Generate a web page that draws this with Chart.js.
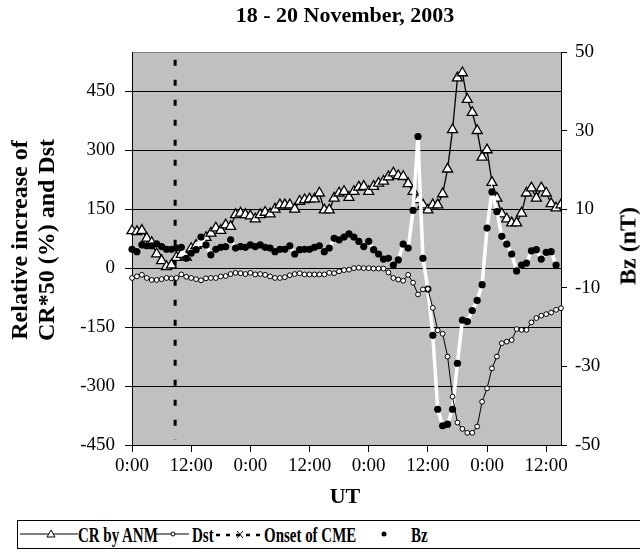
<!DOCTYPE html>
<html lang="en">
<head>
  <meta charset="UTF-8">
  <title>18 - 20 November, 2003</title>
  <script src="https://cdn.jsdelivr.net/npm/chart.js"></script>
  <style>
    body {
      margin: 0;
      background: #fff;
      overflow: hidden;
      font-family: 'Liberation Serif', 'Times New Roman', serif;
      color: #000;
    }

    .wrap {
      position: relative;
      width: 640px;
      height: 559px;
      overflow: hidden;
    }

    canvas {
      position: absolute;
      left: 0;
      top: 0;
    }

    .lbl {
      position: absolute;
      font-weight: bold;
      white-space: nowrap;
      text-align: center;
    }

    .title { left: 345px; top: 2px; font-size: 22px; transform: translateX(-50%); }
    .ytitle { left: 33px; top: 240px; font-size: 24px; line-height: 27px; transform: translate(-50%, -50%) rotate(-90deg); }
    .y2title { left: 628px; top: 246px; font-size: 24px; transform: translate(-50%, -50%) rotate(-90deg); }
    .xtitle { left: 345px; top: 483px; font-size: 22px; transform: translateX(-50%); }

    .legend {
      position: absolute;
      left: 17px;
      top: 520px;
      width: 700px;
      height: 27px;
      border: 1px solid #000;
      background: #fff;
    }

    .legend svg { position: absolute; top: 0; }

    .legend span {
      position: absolute;
      top: 0;
      font-weight: bold;
      font-size: 22px;
      line-height: 27px;
      white-space: nowrap;
      transform: scaleX(0.68);
      transform-origin: left center;
    }
  </style>
</head>
<body>

<div class="wrap">
  <canvas id="grafico" width="640" height="559"></canvas>

  <div class="lbl title">18 - 20 November, 2003</div>
  <div class="lbl ytitle">Relative increase of<br>CR*50 (%) and Dst</div>
  <div class="lbl y2title">Bz (nT)</div>
  <div class="lbl xtitle">UT</div>

  <div class="legend" id="legenda"></div>
</div>

<script>
  // valores, um por hora (0 = 0:00 UT de 18/11)
  const crValues = [
    95, 93, 96, 76, 65, 36, 19, 4, 8, 27,
    35, 28, 50, 58, 62, 78, 89, 102, 96, 110,
    106, 136, 140, 136, 133, 125, 136, 142, 138, 150,
    161, 161, 161, 150, 170, 174, 176, 176, 191, 148,
    148, 178, 191, 195, 180, 195, 206, 208, 195, 208,
    216, 221, 232, 242, 235, 233, 215, 195, 174, 161,
    148, 161, 161, 189, 252, 352, 484, 497, 429, 396,
    350, 282, 301, 218, 178, 138, 125, 115, 115, 140,
    191, 204, 178, 204, 191, 164, 153, 161
  ];

  const dstValues = [
    -25, -21, -17, -25, -30, -30, -28, -25, -26, -25,
    -16, -22, -25, -28, -31, -26, -25, -25, -21, -20,
    -15, -12, -13, -15, -12, -16, -15, -17, -21, -25,
    -25, -23, -18, -15, -13, -16, -16, -16, -16, -16,
    -12, -13, -8, -5, -4, 0, 1, 0, 0, -1,
    -1, -1, -11, -25, -29, -32, -17, -37, -67, -54,
    -53, -101, -158, -167, -225, -327, -393, -409, -419, -419,
    -403, -340, -306, -255, -225, -191, -187, -183, -155, -157,
    -157, -138, -127, -121, -117, -113, -106, -102
  ];

  const bzValues = [
    -0.2, -0.8, 0.9, 0.7, 0.7, 1.2, 0.5, -0.2, -0.2, 0.1,
    0.3, -2.5, -1.2, -0.3, 2.9, 0.9, -1.6, -0.2, 0.3, 0.5,
    2.2, 0.1, 0.5, 0.3, 0.9, 0.5, 0.9, 0.3, 0.1, -0.8,
    -0.2, -0.2, 0.7, -1.4, -0.3, -0.2, -0.2, 0.3, 0.7, -0.8,
    0.1, 2.6, 2.2, 2.9, 3.7, 2.9, 1.8, 0.5, 1.8, -0.3,
    -1.4, -2.7, -2.5, -4.2, -2.9, 1.1, 0.1, 9.7, 28.5, -2.5,
    -10.3, -22.1, -40.9, -45.1, -44.7, -40.9, -29.2, -18.2, -18.6, -15.8,
    -13.2, -9.2, 5.2, 14.4, 9.4, 3.1, 1.1, -1.4, -5.7, -4.2,
    -3.7, -0.6, -0.3, -2.7, -1.0, -0.8, -4.2, null
  ];

  // início da CME (horas após 0:00 UT de 18/11) e extensão da linha tracejada
  const onsetHour = 8.75;
  const onsetSpan = [530, -437];

  const xTickLabels = ["0:00", "12:00", "0:00", "12:00", "0:00", "12:00", "0:00", "12:00"];
  const leftTicks = { min: -450, max: 550, step: 150 };
  const rightTicks = { min: -50, max: 50, step: 20 };

  const toPoints = arr => arr.map((v, i) => ({ x: i, y: v }));

  const tickFont = { family: "'Liberation Serif', 'Times New Roman', serif", size: 19 };

  // fundo cinza da área do gráfico
  const fundo = {
    id: "fundo",
    beforeDraw(chart) {
      const { ctx, chartArea: a } = chart;
      ctx.save();
      ctx.fillStyle = "#c0c0c0";
      ctx.fillRect(a.left, a.top, a.right - a.left, a.bottom - a.top);
      ctx.strokeStyle = "#808080";
      ctx.lineWidth = 1;
      ctx.beginPath();
      ctx.moveTo(a.left, a.top + 0.5);
      ctx.lineTo(a.right, a.top + 0.5);
      ctx.stroke();
      ctx.restore();
    }
  };

  new Chart(document.getElementById("grafico"), {
    type: "line",
    data: {
      datasets: [
        {
          label: "Dst",
          data: toPoints(dstValues),
          yAxisID: "y",
          borderColor: "#000",
          borderWidth: 1,
          pointRadius: 2.4,
          pointBorderWidth: 1,
          pointBorderColor: "#000",
          pointBackgroundColor: "#fff",
          clip: 6
        },
        {
          label: "Bz",
          data: toPoints(bzValues),
          yAxisID: "y2",
          borderColor: "#fff",
          borderWidth: 3.5,
          pointRadius: 3.6,
          pointBorderWidth: 0,
          pointBackgroundColor: "#000",
          clip: 6
        },
        {
          label: "CR by ANM",
          data: toPoints(crValues),
          yAxisID: "y",
          borderColor: "#000",
          borderWidth: 1.3,
          pointStyle: "triangle",
          pointRadius: 5.8,
          pointBorderWidth: 1.3,
          pointBorderColor: "#000",
          pointBackgroundColor: "#fff",
          clip: { left: 8, right: 0, top: 8, bottom: 8 }
        },
        {
          label: "Onset of CME",
          data: onsetSpan.map(v => ({ x: onsetHour, y: v })),
          yAxisID: "y",
          borderColor: "#000",
          borderWidth: 3,
          borderDash: [6, 14],
          pointRadius: 0
        }
      ]
    },
    options: {
      responsive: false,
      animation: false,
      events: [],
      layout: { padding: { left: 0, right: 0, top: 52, bottom: 74 } },
      plugins: {
        legend: { display: false },
        tooltip: { enabled: false }
      },
      scales: {
        x: {
          type: "linear",
          min: 0,
          max: 87,
          afterFit: s => { s.height = 40; },
          grid: { drawOnChartArea: false, color: "#000", tickLength: 7 },
          border: { color: "#000", width: 1 },
          ticks: {
            stepSize: 12,
            includeBounds: false,
            maxRotation: 0,
            autoSkip: false,
            padding: 3,
            color: "#000",
            font: tickFont,
            callback: v => xTickLabels[v / 12]
          }
        },
        y: {
          position: "left",
          min: leftTicks.min,
          max: leftTicks.max,
          afterFit: s => { s.width = 132; },
          grid: { color: "#000", lineWidth: 1, tickLength: 7 },
          border: { color: "#000", width: 1 },
          ticks: {
            stepSize: leftTicks.step,
            includeBounds: false,
            padding: 10,
            color: "#000",
            font: tickFont
          }
        },
        y2: {
          position: "right",
          min: rightTicks.min,
          max: rightTicks.max,
          afterFit: s => { s.width = 79; },
          grid: { drawOnChartArea: false, color: "#000", tickLength: 6 },
          border: { color: "#000", width: 1 },
          ticks: {
            stepSize: rightTicks.step,
            includeBounds: false,
            padding: 8,
            color: "#000",
            font: tickFont
          }
        }
      }
    },
    plugins: [fundo]
  });

  // legenda em HTML, no estilo do Excel
  const legenda = document.getElementById("legenda");
  legenda.innerHTML = `
    <svg width="60" height="27" style="left:2px">
      <line x1="0" y1="13" x2="58" y2="13" stroke="#000" stroke-width="1"/>
      <polygon points="31,9 35,16 27,16" fill="#fff" stroke="#000" stroke-width="1"/>
    </svg>
    <span style="left:60px">CR by ANM</span>
    <svg width="36" height="27" style="left:136px">
      <line x1="0" y1="13" x2="35" y2="13" stroke="#000" stroke-width="1"/>
      <circle cx="19" cy="13" r="2" fill="#fff" stroke="#000" stroke-width="1"/>
    </svg>
    <span style="left:174px">Dst</span>
    <svg width="46" height="27" style="left:198px">
      <line x1="0" y1="14" x2="44" y2="14" stroke="#000" stroke-width="2.5" stroke-dasharray="4,6"/>
      <line x1="21" y1="10" x2="27" y2="17" stroke="#000" stroke-width="1"/>
      <line x1="27" y1="10" x2="21" y2="17" stroke="#000" stroke-width="1"/>
    </svg>
    <span style="left:246px">Onset of CME</span>
    <svg width="10" height="27" style="left:361px">
      <circle cx="5" cy="13" r="2.5" fill="#000"/>
    </svg>
    <span style="left:393px">Bz</span>
  `;
</script>

</body>
</html>
